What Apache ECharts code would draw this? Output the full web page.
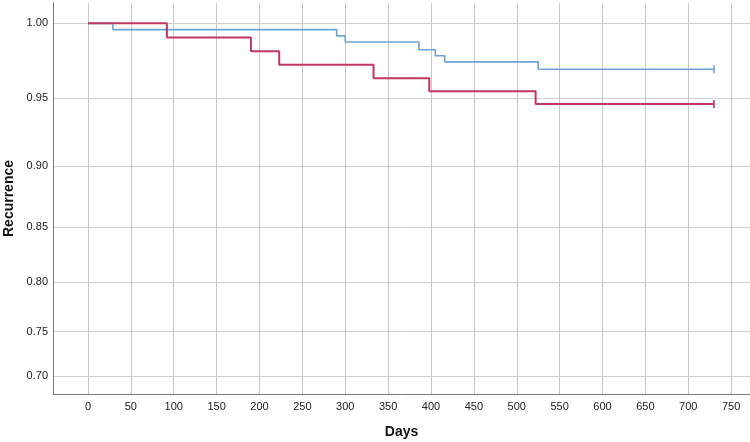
<!DOCTYPE html>
<html>
<head>
<meta charset="utf-8">
<script src="https://cdn.jsdelivr.net/npm/echarts@6/dist/echarts.min.js"></script>
<style>
html,body{margin:0;padding:0;background:#fff;}
#chart{width:750px;height:442px;}
</style>
</head>
<body>
<div id="chart"></div>
<script>
// ---- Data ----
var blueTimes  = [0, 29, 290, 300, 386, 405, 416, 525, 730];
var blueValues = [1.000, 0.996, 0.992, 0.988, 0.983, 0.979, 0.975, 0.970, 0.970];
var redTimes   = [0, 92, 190, 223, 333, 398, 522, 730];
var redValues  = [1.000, 0.991, 0.982, 0.973, 0.964, 0.955, 0.946, 0.946];
var blueCensorTimes = [730];
var redCensorTimes  = [730];
var xTicks = [0, 50, 100, 150, 200, 250, 300, 350, 400, 450, 500, 550, 600, 650, 700, 750];
var yTicks = [0.70, 0.75, 0.80, 0.85, 0.90, 0.95, 1.00];
var xRange = [-40.8, 772];
var yRange = [0.6789, 1.0127];

// The reference's vertical axis is non-linear (spacing grows toward 1.00);
// it matches an exponential scale, so values are mapped through it.
var K = 2.07;
function T(v) { return Math.exp(K * v); }
function Tinv(u) { return Math.log(u) / K; }

function pairs(ts, vs) { return ts.map(function (t, i) { return [t, T(vs[i])]; }); }
function lastVal(vs) { return vs[vs.length - 1]; }

var BLUE = '#6ea3d4';
var RED = '#c2375f';
var FONT = 'Liberation Sans, Arial, sans-serif';

var chart = echarts.init(document.getElementById('chart'));
chart.setOption({
  animation: false,
  backgroundColor: '#ffffff',
  grid: { left: 53, right: 0, top: 3, bottom: 48, containLabel: false, outerBoundsMode: 'none' },
  xAxis: {
    type: 'value',
    min: xRange[0], max: xRange[1],
    name: 'Days', nameLocation: 'middle', nameGap: 31,
    nameTextStyle: { fontFamily: FONT, fontSize: 14, fontWeight: 'bold', color: '#111' },
    axisLine: { show: true, onZero: false, lineStyle: { color: '#777', width: 1 } },
    axisTick: { show: false, customValues: xTicks },
    axisLabel: { customValues: xTicks, margin: 7, fontFamily: FONT, fontSize: 11, color: '#222',
                 showMinLabel: true, showMaxLabel: true },
    splitLine: { show: true, lineStyle: { color: '#c8c8c8', width: 1 } }
  },
  yAxis: {
    type: 'value',
    min: T(yRange[0]), max: T(yRange[1]),
    name: 'Recurrence', nameLocation: 'middle', nameGap: 36.5, nameRotate: 90,
    nameTextStyle: { fontFamily: FONT, fontSize: 14, fontWeight: 'bold', color: '#111' },
    axisLine: { show: true, onZero: false, lineStyle: { color: '#777', width: 1 } },
    axisTick: { show: false, customValues: yTicks.map(T) },
    axisLabel: { customValues: yTicks.map(T), margin: 5, fontFamily: FONT, fontSize: 11, color: '#222',
                 formatter: function (u) { return Tinv(u).toFixed(2); } },
    splitLine: { show: true, lineStyle: { color: '#cfcfcf', width: 1 } }
  },
  series: [
    { type: 'line', step: 'end', data: pairs(blueTimes, blueValues), showSymbol: false,
      lineStyle: { color: BLUE, width: 1.6 }, z: 3 },
    { type: 'line', step: 'end', data: pairs(redTimes, redValues), showSymbol: false,
      lineStyle: { color: RED, width: 2 }, z: 4 },
    { type: 'scatter', data: blueCensorTimes.map(function (t) { return [t, T(lastVal(blueValues))]; }),
      symbol: 'rect', symbolSize: [2, 8], itemStyle: { color: BLUE }, z: 5 },
    { type: 'scatter', data: redCensorTimes.map(function (t) { return [t, T(lastVal(redValues))]; }),
      symbol: 'rect', symbolSize: [2, 8], itemStyle: { color: RED }, z: 5 }
  ]
});
</script>
</body>
</html>
